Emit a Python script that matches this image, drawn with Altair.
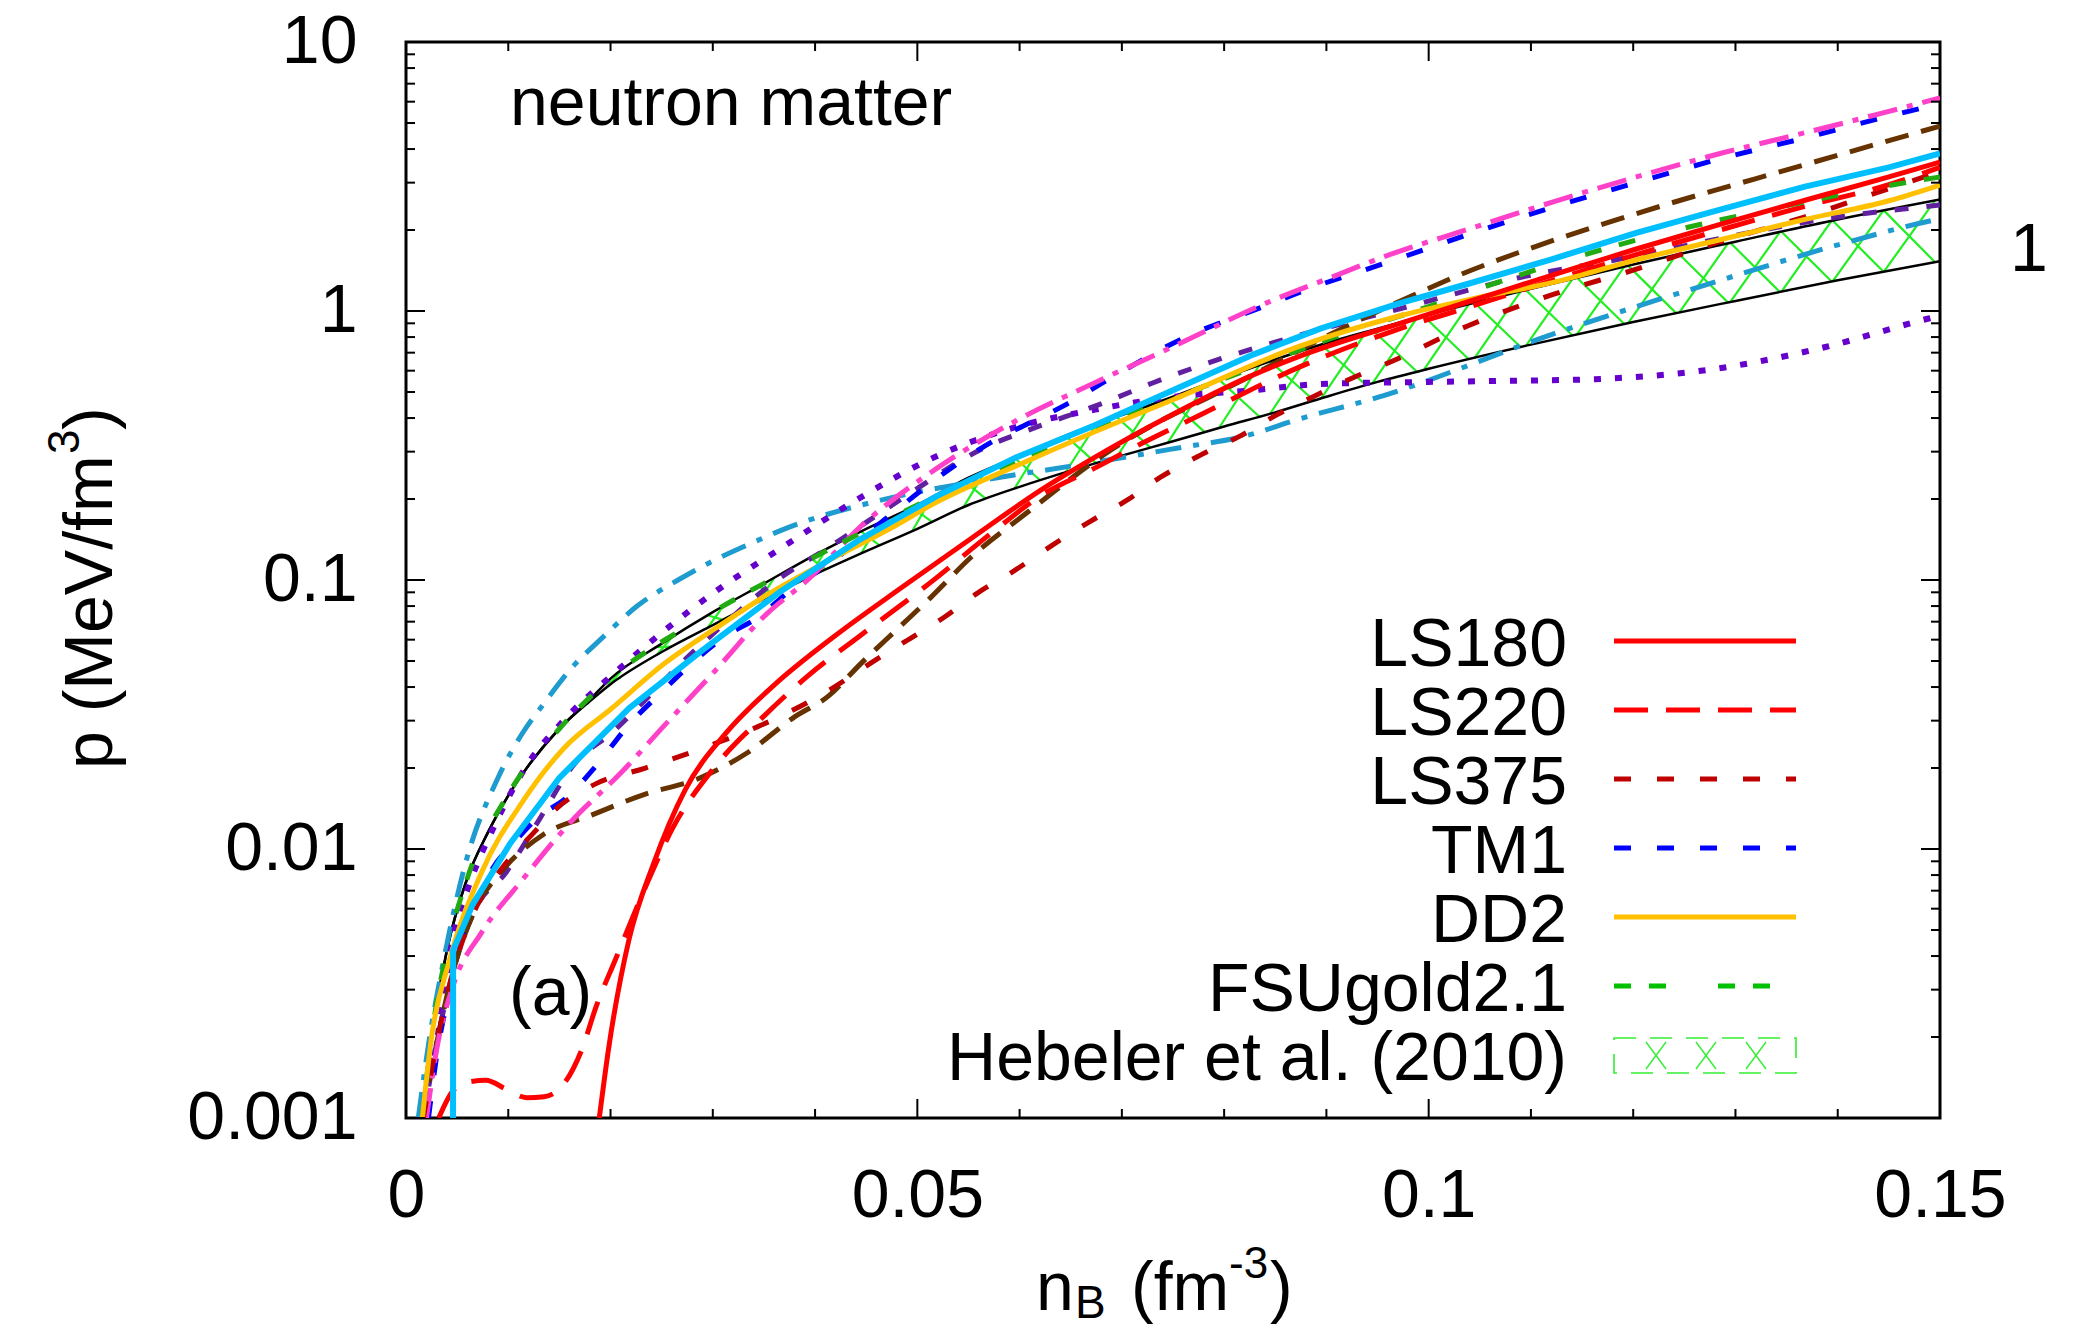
import altair as alt
import pandas as pd
import numpy as np

W, H = 1534, 1076
FONT = "Liberation Sans"
FS = 68

# ---------------- data (n_B in fm^-3, p in MeV/fm^3) ----------------
heb_x = [0.0015, 0.0025, 0.004, 0.006, 0.008, 0.010, 0.015, 0.018, 0.020, 0.025, 0.030, 0.035,
         0.040, 0.045, 0.050, 0.055, 0.060, 0.065, 0.070, 0.075, 0.080, 0.085, 0.090, 0.095,
         0.100, 0.110, 0.120, 0.130, 0.140, 0.150]
heb_hi = [0.001, 0.002, 0.0042, 0.0078, 0.0115, 0.0158, 0.028, 0.036, 0.043, 0.058, 0.076, 0.097,
          0.124, 0.155, 0.19, 0.24, 0.29, 0.35, 0.41, 0.48, 0.565, 0.66, 0.76, 0.86,
          0.97, 1.21, 1.49, 1.81, 2.19, 2.6]
heb_lo = [0.001, 0.002, 0.0042, 0.0078, 0.0115, 0.0158, 0.028, 0.0355, 0.041, 0.054, 0.068, 0.085,
          0.105, 0.128, 0.155, 0.19, 0.222, 0.255, 0.29, 0.328, 0.372, 0.42, 0.48, 0.545,
          0.61, 0.75, 0.91, 1.09, 1.3, 1.53]

ls180_x = [0.0189, 0.0198, 0.0218, 0.0242, 0.0273, 0.0313, 0.0361, 0.0417, 0.0485, 0.0553, 0.062,
           0.0673, 0.0751, 0.0829, 0.0874, 0.0972, 0.1038, 0.1121, 0.1203, 0.1285, 0.1368, 0.145, 0.150]
ls180_p = [0.001, 0.0018, 0.0046, 0.0088, 0.0166, 0.027, 0.041, 0.061, 0.094, 0.143, 0.215,
           0.285, 0.415, 0.58, 0.68, 0.9, 1.08, 1.36, 1.7, 2.1, 2.58, 3.15, 3.58]

ls220_x = [0.0032, 0.0045, 0.006, 0.0078, 0.0098, 0.0118, 0.0135, 0.0155, 0.0172, 0.0186, 0.0205,
           0.0234, 0.0261, 0.0301, 0.0353, 0.0393, 0.0445, 0.0513, 0.0573, 0.062, 0.0673, 0.0711,
           0.0776, 0.0874, 0.0972, 0.1038, 0.1121, 0.1203, 0.1285, 0.1368, 0.145, 0.150]
ls220_p = [0.001, 0.00125, 0.00136, 0.00138, 0.00128, 0.00119, 0.0012, 0.00135, 0.0018, 0.0026, 0.0039,
           0.0072, 0.012, 0.020, 0.032, 0.044, 0.0625, 0.098, 0.15, 0.205, 0.26, 0.31,
           0.41, 0.62, 0.86, 1.03, 1.3, 1.62, 2.0, 2.45, 2.95, 3.42]

ls375_x = [0.0017, 0.003, 0.0046, 0.0068, 0.0094, 0.0125, 0.0146, 0.0186, 0.0234, 0.0304, 0.0344,
           0.0414, 0.0454, 0.0488, 0.0527, 0.0558, 0.0596, 0.0631, 0.067, 0.0705, 0.0737, 0.0776,
           0.0815, 0.0851, 0.0887, 0.0926, 0.0962, 0.1038, 0.1121, 0.1203, 0.1285, 0.1368, 0.145, 0.150]
ls375_p = [0.001, 0.0019, 0.0035, 0.006, 0.0085, 0.0115, 0.014, 0.0175, 0.020, 0.0248, 0.0285,
           0.039, 0.049, 0.059, 0.073, 0.089, 0.109, 0.134, 0.166, 0.198, 0.24, 0.29,
           0.342, 0.41, 0.48, 0.565, 0.645, 0.88, 1.15, 1.43, 1.81, 2.24, 2.85, 3.3]

tm1_x = [0.0022, 0.003, 0.0042, 0.0054, 0.0068, 0.0085, 0.0105, 0.013, 0.0157, 0.0186, 0.0218,
         0.0249, 0.0282, 0.0313, 0.0345, 0.0372, 0.042, 0.047, 0.052, 0.0577, 0.0608, 0.0643,
         0.0689, 0.0759, 0.0836, 0.0883, 0.0956, 0.1038, 0.1121, 0.1203, 0.1285, 0.1368, 0.145, 0.150]
tm1_p = [0.001, 0.0017, 0.0029, 0.0045, 0.0063, 0.0085, 0.0105, 0.0132, 0.0155, 0.0204, 0.029,
         0.038, 0.050, 0.062, 0.073, 0.089, 0.12, 0.17, 0.24, 0.333, 0.381, 0.444,
         0.563, 0.789, 1.03, 1.21, 1.5, 1.92, 2.43, 3.0, 3.68, 4.4, 5.3, 5.9]

dd2_x = [0.0016, 0.0025, 0.0042, 0.0074, 0.0114, 0.0154, 0.0201, 0.0253, 0.0305, 0.0353, 0.0413,
         0.0473, 0.0519, 0.0596, 0.0673, 0.0751, 0.0874, 0.0972, 0.1038, 0.113, 0.1203, 0.1285,
         0.1368, 0.145, 0.150]
dd2_p = [0.001, 0.002, 0.0038, 0.0082, 0.015, 0.0236, 0.0333, 0.049, 0.067, 0.088, 0.118,
         0.155, 0.195, 0.265, 0.355, 0.47, 0.74, 0.96, 1.1, 1.3, 1.55, 1.84,
         2.19, 2.57, 2.94]

fsu_x = [0.0016, 0.0025, 0.004, 0.006, 0.01, 0.015, 0.02, 0.03, 0.04, 0.05, 0.06, 0.07, 0.08,
         0.09, 0.0997, 0.1068, 0.1211, 0.1327, 0.1442, 0.150]
fsu_p = [0.001, 0.002, 0.0042, 0.0078, 0.016, 0.028, 0.043, 0.076, 0.122, 0.19, 0.28, 0.40, 0.56,
         0.78, 1.03, 1.28, 1.87, 2.36, 2.89, 3.15]

cyan_x = [0.0046, 0.00461, 0.0065, 0.0102, 0.015, 0.0218, 0.0289, 0.0365, 0.0442, 0.0519, 0.0596,
          0.0673, 0.0751, 0.0829, 0.0894, 0.0972, 0.1038, 0.1121, 0.1203, 0.1285, 0.1368, 0.145, 0.150]
cyan_p = [0.001, 0.0042, 0.0062, 0.0105, 0.0184, 0.0333, 0.0545, 0.09, 0.14, 0.205, 0.285,
          0.375, 0.51, 0.69, 0.86, 1.07, 1.26, 1.56, 1.95, 2.38, 2.9, 3.42, 3.85]

pink_x = [0.002, 0.003, 0.0046, 0.0074, 0.0114, 0.0161, 0.0209, 0.0257, 0.030, 0.0353, 0.039,
          0.045, 0.0519, 0.0596, 0.0673, 0.0751, 0.0841, 0.0906, 0.0956, 0.1038, 0.1121, 0.1203,
          0.1285, 0.1368, 0.145, 0.150]
pink_p = [0.001, 0.0018, 0.0031, 0.0049, 0.0077, 0.0126, 0.019, 0.030, 0.045, 0.075, 0.098,
          0.165, 0.26, 0.39, 0.54, 0.74, 1.07, 1.34, 1.59, 2.01, 2.54, 3.15,
          3.85, 4.6, 5.52, 6.2]

brown_x = [0.0016, 0.003, 0.0046, 0.0068, 0.0094, 0.0134, 0.0182, 0.0234, 0.0285, 0.0333, 0.038,
           0.0413, 0.0445, 0.0481, 0.0513, 0.0553, 0.0609, 0.0635, 0.0681, 0.0732, 0.0786, 0.0836,
           0.0887, 0.0997, 0.103, 0.1088, 0.1203, 0.1368, 0.150]
brown_p = [0.001, 0.0019, 0.0035, 0.006, 0.0083, 0.0113, 0.0134, 0.016, 0.0182, 0.0227, 0.031,
           0.037, 0.049, 0.066, 0.086, 0.122, 0.18, 0.215, 0.29, 0.38, 0.48, 0.6,
           0.76, 1.2, 1.36, 1.65, 2.3, 3.5, 4.87]

vdash_x = [0.0017, 0.003, 0.0046, 0.0068, 0.0098, 0.0126, 0.0166, 0.0201, 0.0234, 0.0269, 0.0321,
           0.0355, 0.0417, 0.048, 0.057, 0.0608, 0.0685, 0.073, 0.077, 0.0887, 0.0968, 0.1088,
           0.1187, 0.1285, 0.1388, 0.1475, 0.150]
vdash_p = [0.001, 0.0019, 0.0035, 0.006, 0.0082, 0.0121, 0.021, 0.027, 0.0358, 0.049, 0.074,
           0.095, 0.135, 0.195, 0.316, 0.36, 0.46, 0.54, 0.614, 0.84, 1.01, 1.33,
           1.56, 1.86, 2.2, 2.42, 2.48]

vdot_x = [0.0018, 0.003, 0.0046, 0.0062, 0.0086, 0.0118, 0.0154, 0.0205, 0.0253, 0.0305, 0.0365,
          0.0442, 0.052, 0.0596, 0.0674, 0.0751, 0.0829, 0.0894, 0.100, 0.1077, 0.1162, 0.1286,
          0.1388, 0.149, 0.150]
vdot_p = [0.001, 0.0019, 0.0047, 0.0074, 0.0121, 0.0204, 0.030, 0.0455, 0.065, 0.092, 0.13,
          0.2, 0.29, 0.37, 0.43, 0.48, 0.508, 0.535, 0.545, 0.55, 0.558, 0.614,
          0.735, 0.94, 0.96]

sb_x = [0.0012, 0.0024, 0.0034, 0.0058, 0.009, 0.0114, 0.0134, 0.0166, 0.019, 0.0226, 0.0266,
        0.0295, 0.0334, 0.0376, 0.0457, 0.057, 0.0658, 0.0747, 0.0829, 0.0867, 0.0956, 0.112,
        0.1285, 0.1409, 0.149, 0.150]
sb_p = [0.001, 0.0021, 0.0034, 0.0088, 0.0184, 0.027, 0.0344, 0.049, 0.060, 0.080, 0.10,
        0.115, 0.135, 0.158, 0.195, 0.237, 0.268, 0.306, 0.35, 0.39, 0.485, 0.817,
        1.30, 1.8, 2.16, 2.2]

x_major = [0, 0.05, 0.1, 0.15]
x_minor = [0.01, 0.02, 0.03, 0.04, 0.06, 0.07, 0.08, 0.09, 0.11, 0.12, 0.13, 0.14]
y_major = [0.001, 0.01, 0.1, 1, 10]
y_minor = [k * 10.0 ** e for e in range(-3, 1) for k in range(2, 10)]

legend_labels = ["LS180", "LS220", "LS375", "TM1", "DD2", "FSUgold2.1", "Hebeler et al. (2010)"]

# ---------------- scales & shared axes ----------------
xs = alt.Scale(domain=[0, 0.15], nice=False, zero=False)
ys = alt.Scale(type="log", domain=[0.001, 10], nice=False)
XA = alt.Axis(values=x_major, format=".3~g", labelFont=FONT, labelFontSize=FS, labelColor="black",
              labelPadding=44, ticks=False, tickSize=0, domain=False, grid=False, title=None,
              labelFlush=False, labelOverlap=False)
YA = alt.Axis(values=y_major, format=".3~g", labelFont=FONT, labelFontSize=FS, labelColor="black",
              labelPadding=49, ticks=False, tickSize=0, domain=False, grid=False, title=None,
              labelFlush=False, labelOverlap=False)


def X(f):
    return alt.X(f, scale=xs, axis=XA)


def Y(f):
    return alt.Y(f, scale=ys, axis=YA)


def line_layer(x, p, color, width, dash=None, interp="monotone"):
    df = pd.DataFrame({"x": x, "p": p, "i": list(range(len(x)))})
    kw = dict(color=color, strokeWidth=width, clip=True, strokeCap="butt", strokeJoin="round",
              interpolate=interp)
    if dash:
        kw["strokeDash"] = dash
    return alt.Chart(df).mark_line(**kw).encode(x=X("x:Q"), y=Y("p:Q"), order="i:Q")


# ---------------- inward ticks ----------------
def xticks(vals, length):
    d = pd.DataFrame({"x": vals})
    b = alt.Chart(d).mark_rule(color="black", strokeWidth=2).encode(
        x=X("x:Q"), y=alt.value(H), y2=alt.value(H - length))
    t = alt.Chart(d).mark_rule(color="black", strokeWidth=2).encode(
        x=X("x:Q"), y=alt.value(0), y2=alt.value(length))
    return [b, t]


def yticks(vals, length):
    d = pd.DataFrame({"p": vals})
    l = alt.Chart(d).mark_rule(color="black", strokeWidth=2).encode(
        y=Y("p:Q"), x=alt.value(0), x2=alt.value(length))
    r = alt.Chart(d).mark_rule(color="black", strokeWidth=2).encode(
        y=Y("p:Q"), x=alt.value(W), x2=alt.value(W - length))
    return [l, r]


ticks = xticks(x_major, 19) + xticks(x_minor, 9) + yticks(y_major, 19) + yticks(y_minor, 9)

# ---------------- Hebeler band hatch ----------------
lg_hi = np.log10(heb_hi)
lg_lo = np.log10(heb_lo)


def band(xv, lg):
    return float(10 ** np.interp(xv, heb_x, lg))


segs = []
for xk in np.arange(0.0195, 0.1495, 0.0050):
    wdt = float(np.clip(0.022 * (np.interp(xk, heb_x, lg_hi) - np.interp(xk, heb_x, lg_lo)), 0.0015, 0.0052))
    x2 = min(xk + wdt, 0.15)
    segs.append({"x": xk, "p": band(xk, lg_lo), "x2": x2, "p2": band(x2, lg_hi)})
    segs.append({"x": xk, "p": band(xk, lg_hi), "x2": x2, "p2": band(x2, lg_lo)})
hatch = alt.Chart(pd.DataFrame(segs)).mark_rule(color="#22ee22", strokeWidth=2.2, clip=True).encode(
    x=X("x:Q"), y=Y("p:Q"), x2="x2:Q", y2="p2:Q")

# ---------------- curves ----------------
curves = [
    hatch,
    line_layer(heb_x, heb_hi, "black", 2.5),
    line_layer(heb_x, heb_lo, "black", 2.5),
    line_layer(sb_x, sb_p, "#1f9ccf", 5, [26, 12, 6, 12]),
    line_layer(vdot_x, vdot_p, "#6600cc", 6, [7, 14]),
    line_layer(vdash_x, vdash_p, "#6020a0", 5, [14, 18]),
    line_layer(brown_x, brown_p, "#663300", 5, [24, 13]),
    line_layer(tm1_x, tm1_p, "#0000ff", 5, [17, 26]),
    line_layer(pink_x, pink_p, "#ff40c8", 5, [30, 10, 6, 10]),
    line_layer(ls375_x, ls375_p, "#c00000", 5, [17, 26]),
    line_layer(ls220_x, ls220_p, "#ff0000", 5, [34, 18]),
    line_layer(fsu_x, fsu_p, "#22aa11", 5, [17, 18, 17, 52]),
    line_layer(dd2_x, dd2_p, "#ffc000", 5),
    line_layer(ls180_x, ls180_p, "#ff0000", 5),
    line_layer(cyan_x, cyan_p, "#00bfff", 6, interp="linear"),
]

# ---------------- text & legend ----------------
one = pd.DataFrame({"a": [0]})


def text(t, x, y, size=FS, align="left", angle=0, baseline="alphabetic"):
    kw = dict(text=t, font=FONT, fontSize=size, align=align, baseline=baseline, color="black")
    if angle:
        kw["angle"] = angle
    return alt.Chart(one).mark_text(**kw).encode(x=alt.value(x), y=alt.value(y))


texts = [
    text("neutron matter", 104, 83),
    text("(a)", 103, 973),
    text("1", 1604, 229),
    # y-axis title: p (MeV/fm^3), rotated
    text("p (MeV/fm", -294, 727, angle=270),
    text("3", -327, 412, size=44, angle=270),
    text(")", -294, 388, angle=270),
    # x-axis title: n_B (fm^-3)
    text("n", 630, 1268),
    text("B", 669, 1276, size=46),
    text("(fm", 725, 1268),
    text("-3", 823, 1236, size=44),
    text(")", 864, 1268),
]

leg_styles = [("#ff0000", None), ("#ff0000", [34, 18]), ("#c00000", [17, 26]),
              ("#0000ff", [17, 26]), ("#ffc000", None), ("#00c000", [17, 18, 17, 52])]
legend = []
row0, dy = 599, 69
for i, lab in enumerate(legend_labels):
    yl = row0 + dy * i
    legend.append(text(lab, 1161, yl + 25, align="right"))
    if i < len(leg_styles):
        col, dash = leg_styles[i]
        kw = dict(color=col, strokeWidth=5, strokeCap="butt")
        if dash:
            kw["strokeDash"] = dash
        legend.append(alt.Chart(one).mark_rule(**kw).encode(
            x=alt.value(1208), x2=alt.value(1390), y=alt.value(yl)))
# hatched legend box
yb0 = row0 + dy * 6 - 17
yb1 = yb0 + 35
legend.append(alt.Chart(one).mark_rect(fill=None, fillOpacity=0, stroke="#33ee33", strokeWidth=1.6,
                                       strokeDash=[22, 14]).encode(
    x=alt.value(1208), x2=alt.value(1390), y=alt.value(yb0), y2=alt.value(yb1)))
for xa in [1240, 1290, 1340]:
    legend.append(alt.Chart(one).mark_rule(color="#33ee33", strokeWidth=1.4).encode(
        x=alt.value(xa), x2=alt.value(xa + 20), y=alt.value(yb1 - 4), y2=alt.value(yb0 + 4)))
    legend.append(alt.Chart(one).mark_rule(color="#33ee33", strokeWidth=1.4).encode(
        x=alt.value(xa), x2=alt.value(xa + 20), y=alt.value(yb0 + 4), y2=alt.value(yb1 - 4)))

chart = alt.layer(*curves, *ticks, *texts, *legend).properties(
    width=W, height=H,
    padding={"left": 398, "top": 34, "right": 126, "bottom": 210},
    autosize=alt.AutoSizeParams(type="none"),
    background="white",
).configure_view(stroke="black", strokeWidth=3)

chart.save("out.html", embed_options={"renderer": "svg", "actions": False})
